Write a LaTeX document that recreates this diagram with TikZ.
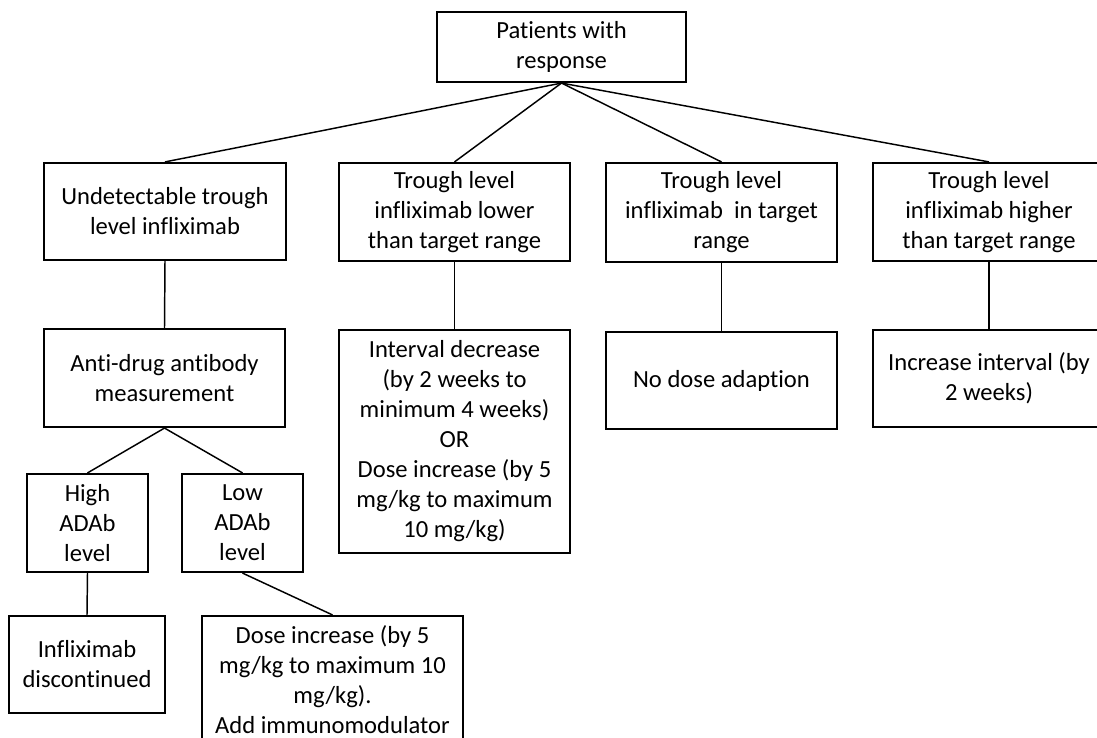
\documentclass[tikz,border=0pt]{standalone}
\usepackage{fontspec}
\setmainfont{Carlito}[Ligatures={NoCommon}]
\begin{document}
\begin{tikzpicture}[x=0.75pt,y=-0.75pt,
  bx/.style 2 args={draw=black, line width=1.6pt, fill=white, align=center,
    inner sep=0pt, minimum width=#1*0.75pt, minimum height=#2*0.75pt,
    font=\fontsize{18.45}{22.5}\selectfont},
  conn/.style={draw=black, line width=1.1pt}]
\useasboundingbox (0,0) rectangle (1097,738);
\clip (0,0) rectangle (1097,738);
\fill[white] (0,0) rectangle (1097,738);
% boxes
\node[bx={249}{70}] (top) at (561.5,47) {Patients with\\response};
\node[bx={242}{97}] (b1) at (165,211.5) {Undetectable trough\\level infliximab};
\node[bx={231}{98}] (b2) at (454.5,212) {Trough level\\infliximab lower\\than target range};
\node[bx={231}{99}] (b3) at (721.5,212.5) {Trough level\\infliximab~ in target\\range};
\node[bx={232}{98}] (b4) at (989,212) {Trough level\\infliximab higher\\than target range};
\node[bx={241}{98}] (ada) at (164.5,378) {Anti-drug antibody\\measurement};
\node[bx={231}{223}] (b2c) at (454.5,441.5) {Interval decrease\\(by 2 weeks to\\minimum 4 weeks)\\OR\\Dose increase (by 5\\mg/kg to maximum\\10 mg/kg)};
\node[bx={231}{97}] (b3c) at (721.5,380.5) {No dose adaption};
\node[bx={232}{97}] (b4c) at (989,378.5) {Increase interval (by\\2 weeks)};
\node[bx={121}{98}] (high) at (87.5,523) {High\\ADAb\\level};
\node[bx={121}{98}] (low) at (242.5,523) {Low\\ADAb\\level};
\node[bx={156}{97}] (disc) at (87,664.5) {Infliximab\\discontinued};
\node[bx={261}{128}] (dose) at (332.5,680) {Dose increase (by 5\\mg/kg to maximum 10\\mg/kg).\\Add immunomodulator};
% connectors
\draw[conn] (top.south) -- (b1.north);
\draw[conn] (top.south) -- (b2.north);
\draw[conn] (top.south) -- (b3.north);
\draw[conn] (top.south) -- (b4.north);
\draw[conn] (b1.south) -- (ada.north);
\draw[conn] (b2.south) -- (b2c.north);
\draw[conn] (b3.south) -- (b3c.north);
\draw[conn] (b4.south) -- (b4c.north);
\draw[conn] (ada.south) -- (high.north);
\draw[conn] (ada.south) -- (low.north);
\draw[conn] (high.south) -- (disc.north);
\draw[conn] (low.south) -- (dose.north);
\end{tikzpicture}
\end{document}
